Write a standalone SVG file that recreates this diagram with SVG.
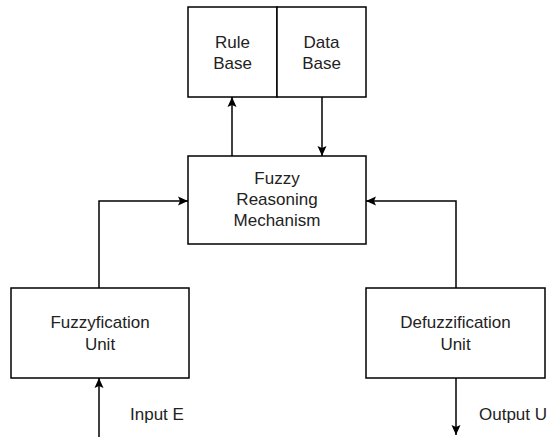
<svg xmlns="http://www.w3.org/2000/svg" width="549" height="437" viewBox="0 0 549 437">
  <style>
    .box { fill: #ffffff; stroke: #000000; stroke-width: 1.5; }
    .edge { fill: none; stroke: #000000; stroke-width: 1.5; }
    .lbl { font-family: "Liberation Sans", Arial, sans-serif; font-size: 17px; fill: #222222; text-anchor: middle; }
    .side { font-family: "Liberation Sans", Arial, sans-serif; font-size: 17px; fill: #222222; text-anchor: start; }
  </style>
  <defs>
    <!-- filled classic arrowhead with a shallow notch -->
    <marker id="arrow" viewBox="0 0 10 10" refX="10" refY="5" markerWidth="10" markerHeight="10" markerUnits="userSpaceOnUse" orient="auto">
      <path d="M0,0.5 L10,5 L0,9.5 L2,5 Z" fill="#000000"/>
    </marker>
  </defs>
  <rect width="549" height="437" fill="#ffffff"/>

  <g id="rule-base">
    <rect class="box" x="188" y="7" width="89" height="90"/>
    <text class="lbl" x="232.5" y="48">Rule</text>
    <text class="lbl" x="232.5" y="69">Base</text>
  </g>
  <g id="data-base">
    <rect class="box" x="277" y="7" width="89" height="90"/>
    <text class="lbl" x="321.5" y="48">Data</text>
    <text class="lbl" x="321.5" y="69">Base</text>
  </g>
  <g id="fuzzy-reasoning">
    <rect class="box" x="188" y="156" width="178" height="88"/>
    <text class="lbl" x="277" y="184">Fuzzy</text>
    <text class="lbl" x="277" y="205">Reasoning</text>
    <text class="lbl" x="277" y="226">Mechanism</text>
  </g>
  <g id="fuzzyfication">
    <rect class="box" x="11" y="288" width="178" height="90"/>
    <text class="lbl" x="100" y="328">Fuzzyfication</text>
    <text class="lbl" x="100" y="350">Unit</text>
  </g>
  <g id="defuzzification">
    <rect class="box" x="366" y="288" width="179" height="90"/>
    <text class="lbl" x="455.5" y="328">Defuzzification</text>
    <text class="lbl" x="455.5" y="350">Unit</text>
  </g>

  <g id="connectors">
    <path class="edge" d="M232,156 L232,97" marker-end="url(#arrow)"/>
    <path class="edge" d="M322,97 L322,156" marker-end="url(#arrow)"/>
    <path class="edge" d="M99,288 L99,201 L188,201" marker-end="url(#arrow)"/>
    <path class="edge" d="M456,288 L456,201 L366,201" marker-end="url(#arrow)"/>
    <path class="edge" d="M99,437 L99,378" marker-end="url(#arrow)"/>
    <path class="edge" d="M456,378 L456,435" marker-end="url(#arrow)"/>
  </g>

  <g id="io-labels">
    <text class="side" x="130" y="420">Input E</text>
    <text class="side" x="479" y="420">Output U</text>
  </g>
</svg>
